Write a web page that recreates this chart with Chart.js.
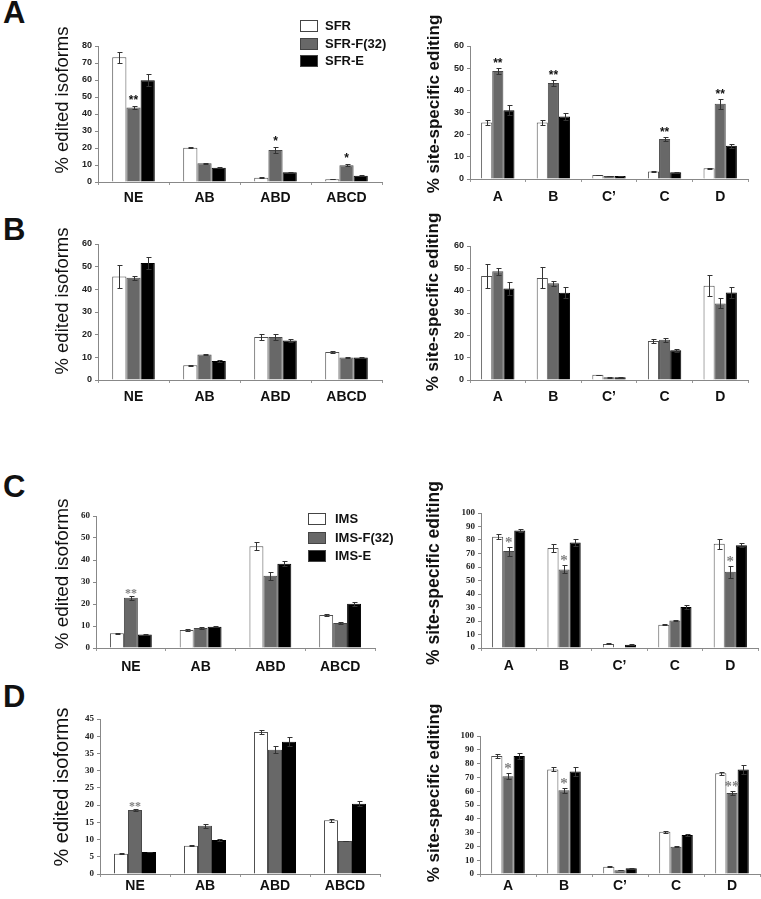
<!DOCTYPE html>
<html>
<head>
<meta charset="utf-8">
<script src="https://cdn.jsdelivr.net/npm/chart.js@4.4.1/dist/chart.umd.min.js"></script>
<style>
  body { margin: 0; background: #fff; }
  #fig { position: relative; width: 761px; height: 899px; overflow: hidden; font-family: Arial, "Liberation Sans", Helvetica, sans-serif; color: #111; }
  #fig canvas { position: absolute; }
  .letter { position: absolute; font-size: 31px; font-weight: bold; line-height: 31px; }
  .ytitle { position: absolute; white-space: nowrap; line-height: 1; transform: translate(-50%, -50%) rotate(-90deg); }
  .leg { position: absolute; font-size: 13px; font-weight: bold; line-height: 12px; white-space: nowrap; }
  .box { position: absolute; box-sizing: border-box; width: 18px; height: 12px; border: 1px solid #444; }
</style>
</head>
<body>
<div id="fig"></div>
<script>
// categories and series names
const isoCats = ['NE', 'AB', 'ABD', 'ABCD']
const siteCats = ['A', 'B', 'C\u2019', 'C', 'D']
const sfrNames = ['SFR', 'SFR-F(32)', 'SFR-E']
const imsNames = ['IMS', 'IMS-F(32)', 'IMS-E']

// A - % edited isoforms
const aIsoSfr = [73.4, 20.2, 2.5, 1.6]
const aIsoF32 = [43.8, 11, 18.8, 9.8]
const aIsoE = [59.9, 8.4, 5.7, 3.7]
const aIsoSfrErr = [3.2, 0.3, 0.2, 0.1]
const aIsoF32Err = [1, 0.3, 1.5, 0.6]
const aIsoEErr = [3.5, 0.2, 0.2, 0.2]
const aIsoStars = ['**', '', '*', '*']
// A - % site-specific editing
const aSiteSfr = [25.5, 25.5, 1.8, 3.4, 4.8]
const aSiteF32 = [48.7, 43.3, 1.3, 18, 34]
const aSiteE = [31, 28.2, 1.3, 3.1, 15]
const aSiteSfrErr = [1, 1, 0.1, 0.2, 0.3]
const aSiteF32Err = [1.5, 1.2, 0.1, 0.8, 2.2]
const aSiteEErr = [2.2, 1.8, 0.1, 0.2, 1]
const aSiteStars = ['**', '**', '', '**', '**']

// B
const bIsoSfr = [45.7, 6.5, 19, 12.4]
const bIsoF32 = [45.1, 11.2, 19, 9.9]
const bIsoE = [51.6, 8.4, 17.4, 9.9]
const bIsoSfrErr = [4.9, 0.3, 1.3, 0.4]
const bIsoF32Err = [0.9, 0.3, 1.3, 0.4]
const bIsoEErr = [2.8, 0.3, 0.6, 0.4]
const bSiteSfr = [46.6, 45.7, 2.3, 17.5, 42.2]
const bSiteF32 = [48.7, 43.3, 1.2, 18, 34.3]
const bSiteE = [41, 39.1, 1.2, 13.3, 39.2]
const bSiteSfrErr = [5.2, 4.7, 0.1, 0.8, 4.6]
const bSiteF32Err = [1.6, 1.2, 0.1, 0.8, 2.2]
const bSiteEErr = [2.9, 2.6, 0.1, 0.7, 2.5]

// C
const cIsoIms = [6.7, 8.2, 46.2, 15]
const cIsoF32 = [22.8, 9.1, 32.8, 11.4]
const cIsoE = [6.1, 9.7, 38.3, 20.1]
const cIsoImsErr = [0.3, 0.3, 1.8, 0.4]
const cIsoF32Err = [1, 0.3, 1.7, 0.6]
const cIsoEErr = [0.2, 0.2, 1.2, 0.8]
const cIsoStars = ['**', '', '', '']
const cSiteIms = [82.4, 74, 3, 17.3, 77.2]
const cSiteF32 = [71.8, 58.2, 0, 20.3, 56.4]
const cSiteE = [87.1, 78.2, 2.5, 30.4, 76.2]
const cSiteImsErr = [1.9, 3, 0.4, 0.4, 3.7]
const cSiteF32Err = [3.3, 3, 0, 0.5, 4.2]
const cSiteEErr = [1, 2.5, 0.2, 1.5, 1.5]
const cSiteStars = ['*', '*', '', '', '*']

// D
const dIsoIms = [5.9, 8.2, 41.2, 15.6]
const dIsoF32 = [18.6, 14, 36.1, 9.6]
const dIsoE = [6.4, 9.9, 38.4, 20.4]
const dIsoImsErr = [0.2, 0.2, 0.7, 0.5]
const dIsoF32Err = [0.4, 0.5, 1, 0.1]
const dIsoEErr = [0.1, 0.2, 1.3, 0.7]
const dIsoStars = ['**', '', '', '']
const dSiteIms = [85.5, 75.8, 5.3, 30.7, 73]
const dSiteF32 = [70.8, 60.6, 2.7, 19.8, 58.7]
const dSiteE = [85.5, 74.2, 4.1, 28.3, 75.8]
const dSiteImsErr = [1.5, 1.5, 0.2, 0.8, 1]
const dSiteF32Err = [2.2, 2, 0.1, 0.4, 1.5]
const dSiteEErr = [2, 3, 0.2, 1, 3]
const dSiteStars = ['*', '*', '', '', '**']

const isoTitle = '% edited isoforms'
const siteTitle = '% site-specific editing'

const fig = document.getElementById('fig')
const sans = 'Arial, "Liberation Sans", Helvetica, sans-serif'
const serif = '"Times New Roman", "Liberation Serif", serif'
const barFill = ['#ffffff', '#686868', '#000000']
const barLine = ['#505050', '#484848', '#000000']

function drawPanel(p) {
  const yw = 40, padTop = 10, padRight = 4, xh = 36
  const w = yw + p.xEnd - p.axisX + padRight
  const h = padTop + p.bottom - p.top + xh
  const canvas = document.createElement('canvas')
  canvas.width = w
  canvas.height = h
  Object.assign(canvas.style, { left: (p.axisX - yw) + 'px', top: (p.top - padTop) + 'px', width: w + 'px', height: h + 'px' })
  fig.appendChild(canvas)

  // error bars + significance stars, placed with the chart's own scale
  const errorBars = {
    id: 'errorBars',
    afterDatasetsDraw(chart) {
      const ctx = chart.ctx
      const ys = chart.scales.y
      ctx.save()
      ctx.lineWidth = 1
      ctx.strokeStyle = '#333'
      chart.data.datasets.forEach((ds, di) => {
        chart.getDatasetMeta(di).data.forEach((bar, i) => {
          const e = p.errors[di][i]
          if (!e) return
          const v = ds.data[i]
          const x = Math.round(bar.x) + 0.5
          const t = Math.round(ys.getPixelForValue(v + e)) + 0.5
          const b = Math.round(ys.getPixelForValue(v - e)) + 0.5
          ctx.beginPath()
          ctx.moveTo(x, t); ctx.lineTo(x, b)
          ctx.moveTo(x - 2, t); ctx.lineTo(x + 3, t)
          ctx.moveTo(x - 2, b); ctx.lineTo(x + 3, b)
          ctx.stroke()
        })
      })
      const meta = chart.getDatasetMeta(1)
      ctx.fillStyle = p.starColor
      ctx.font = p.starFont
      ctx.textAlign = 'center'
      ctx.textBaseline = 'alphabetic'
      ;(p.stars || []).forEach((s, i) => {
        if (!s) return
        const v = chart.data.datasets[1].data[i] + p.errors[1][i]
        ctx.fillText(s, meta.data[i].x, ys.getPixelForValue(v) + p.starShift)
      })
      ctx.restore()
    },
  }

  new Chart(canvas, {
    type: 'bar',
    data: {
      labels: p.cats,
      datasets: p.values.map((d, i) => ({
        label: p.names[i],
        data: d,
        backgroundColor: barFill[i],
        borderColor: barLine[i],
        borderWidth: 1,
        categoryPercentage: 0.6,
        barPercentage: 1,
      })),
    },
    options: {
      responsive: false,
      animation: false,
      devicePixelRatio: 1,
      layout: { padding: { top: padTop, right: padRight, left: 0, bottom: 0 } },
      scales: {
        x: {
          afterFit: s => { s.height = xh },
          grid: { offset: true, drawOnChartArea: false, tickLength: 3, color: '#999' },
          border: { color: '#888' },
          ticks: { font: { family: sans, size: 14, weight: 'bold' }, color: '#111', padding: p.labelPad, maxRotation: 0 },
        },
        y: {
          min: 0,
          max: p.yMax,
          afterFit: s => { s.width = yw },
          grid: { drawOnChartArea: false, tickLength: 3, color: '#888' },
          border: { color: '#888' },
          ticks: { stepSize: p.yStep, autoSkip: false, font: { family: p.tickFamily, size: 9, weight: 'bold' }, color: '#222', padding: 3 },
        },
      },
      plugins: { legend: { display: false }, tooltip: { enabled: false } },
    },
    plugins: [errorBars],
  })
}

function vtext(txt, cx, cy, size, bold) {
  const d = document.createElement('div')
  d.className = 'ytitle'
  d.textContent = txt
  Object.assign(d.style, { left: cx + 'px', top: cy + 'px', fontSize: size + 'px', fontWeight: bold ? 'bold' : 'normal' })
  fig.appendChild(d)
}

function letter(txt, x, capTop) {
  const d = document.createElement('div')
  d.className = 'letter'
  d.textContent = txt
  Object.assign(d.style, { left: x + 'px', top: (capTop - 4) + 'px' })
  fig.appendChild(d)
}

function legend(names, x, y, gap, tx) {
  names.forEach((n, i) => {
    const b = document.createElement('div')
    b.className = 'box'
    Object.assign(b.style, { left: x + 'px', top: (y + i * gap) + 'px', background: barFill[i] })
    fig.appendChild(b)
    const t = document.createElement('div')
    t.className = 'leg'
    t.textContent = n
    Object.assign(t.style, { left: tx + 'px', top: (y + i * gap) + 'px' })
    fig.appendChild(t)
  })
}

const sansStar = { starFont: 'bold 12px ' + sans, starColor: '#111' }

drawPanel({ cats: isoCats, names: sfrNames, values: [aIsoSfr, aIsoF32, aIsoE], errors: [aIsoSfrErr, aIsoF32Err, aIsoEErr],
  stars: aIsoStars, ...sansStar, starShift: -2, axisX: 98, top: 46, bottom: 182, xEnd: 382, yMax: 80, yStep: 10, tickFamily: sans, labelPad: 5 })
drawPanel({ cats: siteCats, names: sfrNames, values: [aSiteSfr, aSiteF32, aSiteE], errors: [aSiteSfrErr, aSiteF32Err, aSiteEErr],
  stars: aSiteStars, ...sansStar, starShift: -1, axisX: 470, top: 46, bottom: 179, xEnd: 748, yMax: 60, yStep: 10, tickFamily: sans, labelPad: 7 })
drawPanel({ cats: isoCats, names: sfrNames, values: [bIsoSfr, bIsoF32, bIsoE], errors: [bIsoSfrErr, bIsoF32Err, bIsoEErr],
  axisX: 98, top: 244, bottom: 380, xEnd: 382, yMax: 60, yStep: 10, tickFamily: sans, labelPad: 6 })
drawPanel({ cats: siteCats, names: sfrNames, values: [bSiteSfr, bSiteF32, bSiteE], errors: [bSiteSfrErr, bSiteF32Err, bSiteEErr],
  axisX: 470, top: 246, bottom: 380, xEnd: 748, yMax: 60, yStep: 10, tickFamily: sans, labelPad: 6 })
drawPanel({ cats: isoCats, names: imsNames, values: [cIsoIms, cIsoF32, cIsoE], errors: [cIsoImsErr, cIsoF32Err, cIsoEErr],
  stars: cIsoStars, starFont: 'bold 12px ' + serif, starColor: '#808080', starShift: 1,
  axisX: 96, top: 516, bottom: 648, xEnd: 375, yMax: 60, yStep: 10, tickFamily: serif, labelPad: 8 })
drawPanel({ cats: siteCats, names: imsNames, values: [cSiteIms, cSiteF32, cSiteE], errors: [cSiteImsErr, cSiteF32Err, cSiteEErr],
  stars: cSiteStars, starFont: 'bold 15px ' + serif, starColor: '#808080', starShift: 0,
  axisX: 481, top: 513, bottom: 648, xEnd: 758, yMax: 100, yStep: 10, tickFamily: serif, labelPad: 7 })
drawPanel({ cats: isoCats, names: imsNames, values: [dIsoIms, dIsoF32, dIsoE], errors: [dIsoImsErr, dIsoF32Err, dIsoEErr],
  stars: dIsoStars, starFont: 'bold 12px ' + serif, starColor: '#808080', starShift: 1,
  axisX: 100, top: 719, bottom: 874, xEnd: 380, yMax: 45, yStep: 5, tickFamily: serif, labelPad: 1 })
drawPanel({ cats: siteCats, names: imsNames, values: [dSiteIms, dSiteF32, dSiteE], errors: [dSiteImsErr, dSiteF32Err, dSiteEErr],
  stars: dSiteStars, starFont: 'bold 15px ' + serif, starColor: '#808080', starShift: 0,
  axisX: 480, top: 736, bottom: 874, xEnd: 760, yMax: 100, yStep: 10, tickFamily: serif, labelPad: 1 })

vtext(isoTitle, 62, 100, 18.5, false)
vtext(siteTitle, 433, 104, 17, true)
vtext(isoTitle, 62, 301, 18.5, false)
vtext(siteTitle, 432, 302, 17, true)
vtext(isoTitle, 61, 574, 19, false)
vtext(siteTitle, 434, 573, 17.5, true)
vtext(isoTitle, 61, 787, 20, false)
vtext(siteTitle, 433, 793, 17, true)

letter('A', 3, 1)
letter('B', 3, 218)
letter('C', 3, 475)
letter('D', 3, 685)

legend(sfrNames, 300, 20, 17.5, 325)
legend(imsNames, 308, 513, 18.5, 335)
</script>
</body>
</html>
